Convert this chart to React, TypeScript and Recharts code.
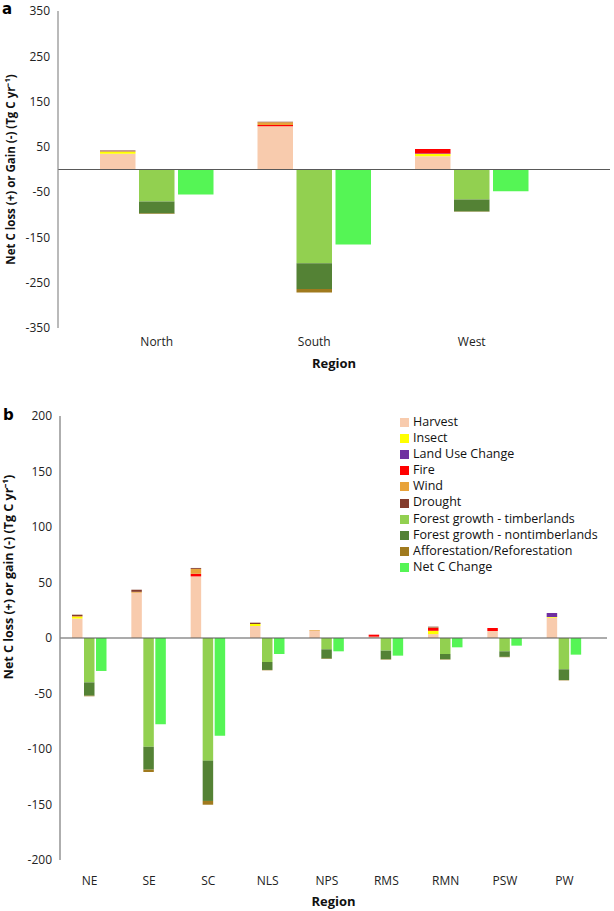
import React from "react";
import { BarChart, Bar, XAxis, YAxis, ReferenceLine, Legend, Label } from "recharts";

// panel a: broad regions
const regionsA = ["North", "South", "West"];
const harvestA = [34.6, 95.5, 29];
const insectA = [4.4, 0, 5.5];
const landUseA = [0, 0, 1];
const fireA = [0, 3, 10];
const windA = [1.5, 6, 0];
const droughtA = [1.5, 0.8, 0];
const timberA = [-70.5, -207, -66];
const nontimberA = [-26.5, -57, -26.5];
const afforestA = [-1, -7.5, -1];
const netA = [-55, -165.5, -48];
const ticksA = [-350, -250, -150, -50, 50, 150, 250, 350];

// panel b: sub-regions
const regionsB = ["NE", "SE", "SC", "NLS", "NPS", "RMS", "RMN", "PSW", "PW"];
const harvestB = [17.5, 40.8, 55.5, 10.8, 6.6, 1.2, 3.5, 6.3, 18.3];
const insectB = [1.5, 0, 0, 1.8, 0, 0, 3, 0, 0.6];
const landUseB = [0, 0, 0, 0, 0, 0, 0, 0, 3.6];
const fireB = [0, 0, 2.3, 0, 0, 1.8, 2.5, 2.7, 0];
const windB = [0.8, 0.8, 4.5, 0, 0.6, 0, 0.5, 0, 0];
const droughtB = [1.2, 1.9, 0.8, 1.2, 0, 0, 0.7, 0, 0];
const timberB = [-40, -98, -110.5, -21.6, -10.2, -11.4, -14.4, -12, -28.2];
const nontimberB = [-12, -20.6, -36.3, -7.2, -8.4, -7.8, -4.8, -5, -9.7];
const afforestB = [-0.5, -2.1, -3.4, -0.3, -0.3, -0.3, -0.3, -0.3, -0.3];
const netB = [-29.7, -77.8, -88, -14.4, -12, -15.9, -8.4, -6.9, -15];
const ticksB = [-200, -150, -100, -50, 0, 50, 100, 150, 200];

const FONT = "'Open Sans', sans-serif";

const series = [
  { key: "harvest", name: "Harvest", color: "#f8cbad", stack: "loss" },
  { key: "insect", name: "Insect", color: "#ffff00", stack: "loss" },
  { key: "landUse", name: "Land Use Change", color: "#7030a0", stack: "loss" },
  { key: "fire", name: "Fire", color: "#ff0000", stack: "loss" },
  { key: "wind", name: "Wind", color: "#e8a33a", stack: "loss" },
  { key: "drought", name: "Drought", color: "#843c2c", stack: "loss" },
  { key: "timber", name: "Forest growth - timberlands", color: "#92d050", stack: "gain" },
  { key: "nontimber", name: "Forest growth - nontimberlands", color: "#548235", stack: "gain" },
  { key: "afforest", name: "Afforestation/Reforestation", color: "#a07a1e", stack: "gain" },
  { key: "net", name: "Net C Change", color: "#55f555", stack: "net" },
];
const legendOrder = series.map((s) => s.name);

const rowsA = regionsA.map((region, i) => ({
  region,
  harvest: harvestA[i],
  insect: insectA[i],
  landUse: landUseA[i],
  fire: fireA[i],
  wind: windA[i],
  drought: droughtA[i],
  timber: timberA[i],
  nontimber: nontimberA[i],
  afforest: afforestA[i],
  net: netA[i],
}));

const rowsB = regionsB.map((region, i) => ({
  region,
  harvest: harvestB[i],
  insect: insectB[i],
  landUse: landUseB[i],
  fire: fireB[i],
  wind: windB[i],
  drought: droughtB[i],
  timber: timberB[i],
  nontimber: nontimberB[i],
  afforest: afforestB[i],
  net: netB[i],
}));

function VTitle(props: any) {
  const { viewBox, value, shift = 0, size = 12, dx = 14.5 } = props;
  const x = viewBox.x + dx;
  const y = viewBox.y + viewBox.height / 2 + shift;
  return (
    <text
      x={x}
      y={y}
      transform={`rotate(-90 ${x} ${y})`}
      textAnchor="middle"
      fontSize={size}
      fontWeight={700}
      fontFamily={FONT}
      fill="#111"
    >
      {value}
    </text>
  );
}

const tickStyle = { fontSize: 12, fill: "#222", fontFamily: FONT };
const panelTag = { position: "absolute" as const, fontSize: 15, fontWeight: 700, fontFamily: "'DejaVu Sans', sans-serif", lineHeight: "normal" };

function bars() {
  return series.map((s) => (
    <Bar
      key={s.key}
      dataKey={s.key}
      name={s.name}
      stackId={s.stack}
      fill={s.color}
      isAnimationActive={false}
    />
  ));
}

export default function App() {
  return (
    <div style={{ position: "absolute", left: 0, top: 0, width: 614, height: 911, background: "#fff", fontFamily: FONT }}>
      <div style={{ ...panelTag, left: 2, top: 0 }}>a</div>
      <div style={{ ...panelTag, left: 3, top: 406 }}>b</div>

      <div style={{ position: "absolute", left: 0, top: 0 }}>
        <BarChart width={614} height={380} data={rowsA} margin={{ top: 11, right: 4, bottom: 7, left: 0 }} barSize={35.5} barGap={3.5}>
          <YAxis
            width={58}
            domain={[-350, 350]}
            ticks={ticksA}
            interval={0}
            tickSize={0}
            tickLine={false}
            tickMargin={8}
            tick={tickStyle}
            axisLine={{ stroke: "#8c8c8c", strokeWidth: 1.2 }}
          >
            <Label content={<VTitle shift={0} size={11.5} dx={14.5} />} value="Net C loss (+) or Gain (-) (Tg C yr⁻¹)" />
          </YAxis>
          <XAxis
            dataKey="region"
            height={45}
            padding={{ left: 20, right: 59.5 }}
            axisLine={false}
            tickLine={false}
            tickSize={0}
            tickMargin={9}
            tick={tickStyle}
          >
            <Label value="Region" position="insideBottom" offset={5} fontSize={13} fontWeight={700} fill="#111" fontFamily={FONT} />
          </XAxis>
          {bars()}
          <ReferenceLine y={0} stroke="#595959" strokeWidth={1.2} />
        </BarChart>
      </div>

      <div style={{ position: "absolute", left: 0, top: 380 }}>
        <BarChart width={614} height={531} data={rowsB} margin={{ top: 36, right: 7, bottom: 1, left: 0 }} barSize={10.5} barGap={1.5}>
          <YAxis
            width={60}
            domain={[-200, 200]}
            ticks={ticksB}
            interval={0}
            tickSize={0}
            tickLine={false}
            tickMargin={8}
            tick={tickStyle}
            axisLine={{ stroke: "#8c8c8c", strokeWidth: 1.4 }}
          >
            <Label content={<VTitle shift={-61} size={12.5} dx={13} />} value="Net C loss (+) or gain (-) (Tg C yr⁻¹)" />
          </YAxis>
          <XAxis
            dataKey="region"
            height={50}
            padding={{ left: 0, right: 13 }}
            axisLine={false}
            tickLine={false}
            tickSize={0}
            tickMargin={16}
            tick={tickStyle}
          >
            <Label value="Region" position="insideBottom" offset={4} fontSize={13} fontWeight={700} fill="#111" fontFamily={FONT} />
          </XAxis>
          {bars()}
          <ReferenceLine y={0} stroke="#595959" strokeWidth={1.2} />
          <Legend
            layout="vertical"
            align="center"
            verticalAlign="middle"
            iconType="square"
            iconSize={9}
            itemSorter={(item: any) => legendOrder.indexOf(item.value)}
            formatter={(v: string) => <span style={{ color: "#111" }}>{v}</span>}
            wrapperStyle={{ left: 400, top: 33.6, width: 212, whiteSpace: "nowrap", fontSize: 12.5, lineHeight: "16.15px", fontFamily: FONT }}
          />
        </BarChart>
      </div>
    </div>
  );
}
